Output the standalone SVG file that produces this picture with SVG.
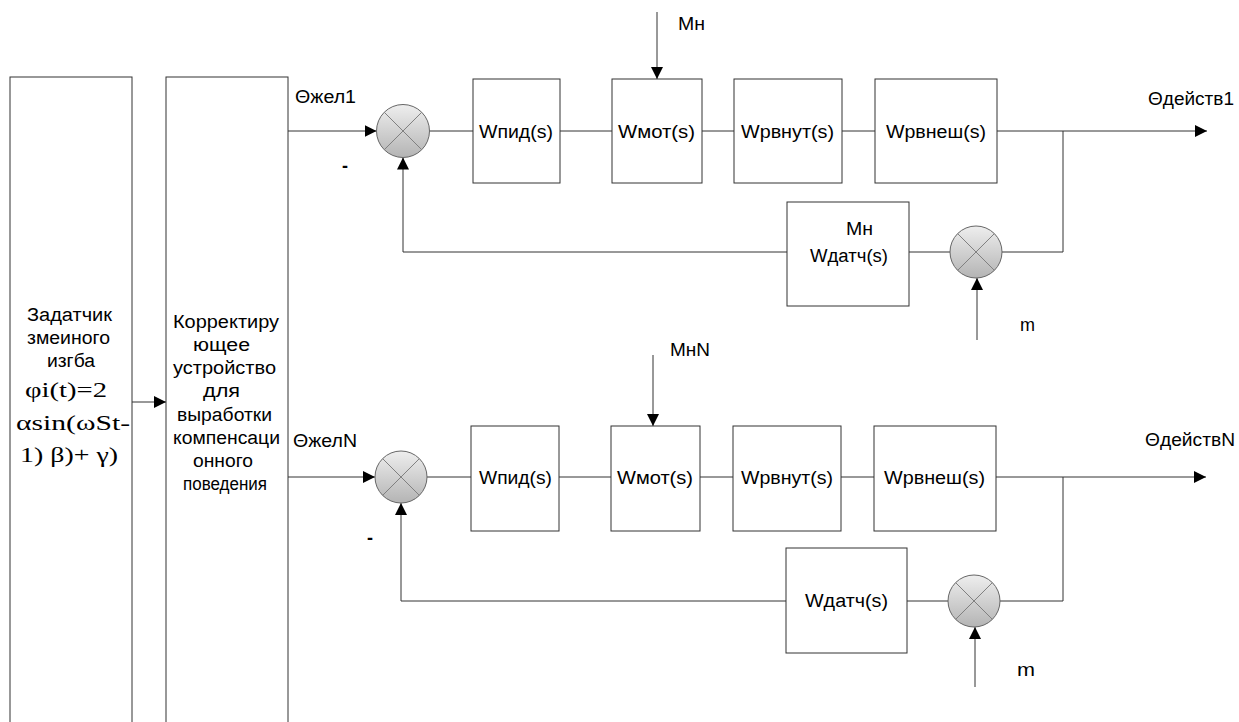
<svg xmlns="http://www.w3.org/2000/svg" width="1239" height="722" viewBox="0 0 1239 722">
<style>
.box{fill:#fff;stroke:#333;stroke-width:1}
.ln{fill:none;stroke:#333;stroke-width:1}
.arr{fill:none;stroke:#333;stroke-width:1;marker-end:url(#ah)}
.sum{fill:url(#sg);stroke:#666;stroke-width:1}
.x{stroke:#808080;stroke-width:1}
.t{font-family:"Liberation Sans",Arial,sans-serif;font-size:18px;fill:#000}
.s{font-family:"Liberation Serif","Times New Roman",serif;font-size:22px;fill:#000}
.b{font-family:"Liberation Sans",Arial,sans-serif;font-size:18px;font-weight:bold;fill:#000}
</style>
<defs>
<linearGradient id="sg" x1="0" y1="0" x2="0" y2="1">
<stop offset="0" stop-color="#eeeeee"/>
<stop offset="1" stop-color="#b4b4b4"/>
</linearGradient>
<marker id="ah" viewBox="0 0 12 12" refX="12" refY="6" markerWidth="12" markerHeight="12" markerUnits="userSpaceOnUse" orient="auto">
<path d="M0,0 L12,6 L0,12 z" fill="#000"/>
</marker>
</defs>
<rect width="1239" height="722" fill="#fff"/>

<g id="connectors">
<path class="arr" d="M132,402 H166"/>
<!-- top loop -->
<path class="arr" d="M288,131 H376.5"/>
<path class="ln" d="M429.5,131 H473 M560,131 H612 M702,131 H734 M842,131 H875"/>
<path class="arr" d="M997,131 H1207"/>
<path class="arr" d="M657,12 V79"/>
<path class="ln" d="M1063,131 V252 H1002 M950,252 H909"/>
<path class="arr" d="M787,252 H403 V157.5"/>
<path class="arr" d="M977,340 V278"/>
<!-- bottom loop -->
<path class="arr" d="M288,477 H375"/>
<path class="ln" d="M427,477 H471 M559,477 H611 M700,477 H733 M841,477 H874"/>
<path class="arr" d="M996,477 H1206"/>
<path class="arr" d="M653,355 V426"/>
<path class="ln" d="M1063,477 V601 H1000 M948,601 H907"/>
<path class="arr" d="M786,601 H401 V503"/>
<path class="arr" d="M975,687 V627"/>
</g>

<g id="zadatchik">
<rect class="box" x="10" y="77" width="122" height="680"/>
<text class="t" x="27" y="321" textLength="85" lengthAdjust="spacingAndGlyphs">Задатчик</text>
<text class="t" x="27" y="344" textLength="83" lengthAdjust="spacingAndGlyphs">змеиного</text>
<text class="t" x="47" y="367" textLength="48" lengthAdjust="spacingAndGlyphs">изгба</text>
<text class="s" x="25" y="397" textLength="82" lengthAdjust="spacingAndGlyphs">φi(t)=2</text>
<text class="s" x="16" y="430" textLength="114" lengthAdjust="spacingAndGlyphs">αsin(ωSt-</text>
<text class="s" x="20" y="462" textLength="98" lengthAdjust="spacingAndGlyphs">1) β)+ γ)</text>
</g>

<g id="korrektor">
<rect class="box" x="166" y="77" width="122" height="680"/>
<text class="t" x="173" y="328" textLength="106" lengthAdjust="spacingAndGlyphs">Корректиру</text>
<text class="t" x="193" y="351" textLength="57" lengthAdjust="spacingAndGlyphs">ющее</text>
<text class="t" x="173" y="374" textLength="103" lengthAdjust="spacingAndGlyphs">устройство</text>
<text class="t" x="203" y="397" textLength="37" lengthAdjust="spacingAndGlyphs">для</text>
<text class="t" x="177" y="421" textLength="95" lengthAdjust="spacingAndGlyphs">выработки</text>
<text class="t" x="173" y="444" textLength="107" lengthAdjust="spacingAndGlyphs">компенсаци</text>
<text class="t" x="193" y="467" textLength="60" lengthAdjust="spacingAndGlyphs">онного</text>
<text class="t" x="183" y="490" textLength="84" lengthAdjust="spacingAndGlyphs">поведения</text>
</g>

<!-- top loop nodes -->
<g id="labels-top">
<text class="t" x="295" y="103" textLength="61" lengthAdjust="spacingAndGlyphs">Θжел1</text>
<text class="b" x="342" y="172">-</text>
<text class="t" x="678" y="30" textLength="27" lengthAdjust="spacingAndGlyphs">Mн</text>
<text class="t" x="1148" y="105" textLength="86" lengthAdjust="spacingAndGlyphs">Θдейств1</text>
<text class="t" x="1020" y="331" textLength="15" lengthAdjust="spacingAndGlyphs">m</text>
</g>
<g id="sum1">
<circle class="sum" cx="403" cy="131" r="26.5"/>
<path class="x" d="M384.3,112.3 L421.7,149.7 M421.7,112.3 L384.3,149.7"/>
</g>
<g id="pid1">
<rect class="box" x="473" y="79" width="87" height="104"/>
<text class="t" x="479" y="138" textLength="74" lengthAdjust="spacingAndGlyphs">Wпид(s)</text>
</g>
<g id="mot1">
<rect class="box" x="612" y="79" width="90" height="104"/>
<text class="t" x="618" y="138" textLength="77" lengthAdjust="spacingAndGlyphs">Wмот(s)</text>
</g>
<g id="rvnut1">
<rect class="box" x="734" y="79" width="108" height="104"/>
<text class="t" x="741" y="138" textLength="93" lengthAdjust="spacingAndGlyphs">Wрвнут(s)</text>
</g>
<g id="rvnesh1">
<rect class="box" x="875" y="79" width="122" height="104"/>
<text class="t" x="886" y="138" textLength="100" lengthAdjust="spacingAndGlyphs">Wрвнеш(s)</text>
</g>
<g id="datch1">
<rect class="box" x="787" y="202" width="122" height="104"/>
<text class="t" x="846" y="235" textLength="27" lengthAdjust="spacingAndGlyphs">Mн</text>
<text class="t" x="810" y="262" textLength="78" lengthAdjust="spacingAndGlyphs">Wдатч(s)</text>
</g>
<g id="sum1b">
<circle class="sum" cx="976" cy="252" r="26"/>
<path class="x" d="M957.6,233.6 L994.4,270.4 M994.4,233.6 L957.6,270.4"/>
</g>

<!-- bottom loop nodes -->
<g id="labels-bottom">
<text class="t" x="293" y="447" textLength="64" lengthAdjust="spacingAndGlyphs">ΘжелN</text>
<text class="b" x="367" y="544">-</text>
<text class="t" x="670" y="356" textLength="40" lengthAdjust="spacingAndGlyphs">MнN</text>
<text class="t" x="1145" y="446" textLength="90" lengthAdjust="spacingAndGlyphs">ΘдействN</text>
<text class="t" x="1017" y="676" textLength="18" lengthAdjust="spacingAndGlyphs">m</text>
</g>
<g id="sumN">
<circle class="sum" cx="401" cy="477" r="26"/>
<path class="x" d="M382.6,458.6 L419.4,495.4 M419.4,458.6 L382.6,495.4"/>
</g>
<g id="pidN">
<rect class="box" x="471" y="426" width="88" height="105"/>
<text class="t" x="479" y="484" textLength="73" lengthAdjust="spacingAndGlyphs">Wпид(s)</text>
</g>
<g id="motN">
<rect class="box" x="611" y="426" width="89" height="105"/>
<text class="t" x="617" y="484" textLength="76" lengthAdjust="spacingAndGlyphs">Wмот(s)</text>
</g>
<g id="rvnutN">
<rect class="box" x="733" y="426" width="108" height="105"/>
<text class="t" x="741" y="484" textLength="92" lengthAdjust="spacingAndGlyphs">Wрвнут(s)</text>
</g>
<g id="rvneshN">
<rect class="box" x="874" y="426" width="122" height="105"/>
<text class="t" x="884" y="484" textLength="101" lengthAdjust="spacingAndGlyphs">Wрвнеш(s)</text>
</g>
<g id="datchN">
<rect class="box" x="786" y="548" width="121" height="105"/>
<text class="t" x="805" y="607" textLength="83" lengthAdjust="spacingAndGlyphs">Wдатч(s)</text>
</g>
<g id="sumNb">
<circle class="sum" cx="974" cy="601" r="26"/>
<path class="x" d="M955.6,582.6 L992.4,619.4 M992.4,582.6 L955.6,619.4"/>
</g>
</svg>
